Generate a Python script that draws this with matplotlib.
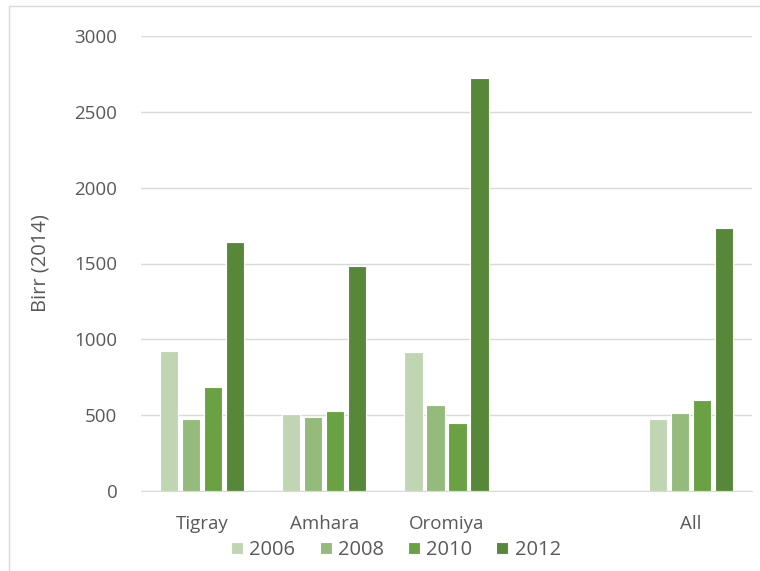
import matplotlib
matplotlib.use("Agg")
import matplotlib.pyplot as plt
from matplotlib.patches import Rectangle
import numpy as np

regions = ["Tigray", "Amhara", "Oromiya", "", "All"]
years = ["2006", "2008", "2010", "2012"]
v2006 = [925, 505, 914, None, 474]
v2008 = [472, 491, 564, None, 515]
v2010 = [683, 526, 449, None, 597]
v2012 = [1641, 1484, 2721, None, 1733]
colors = ["#C0D6B2", "#94BB7B", "#6AA243", "#578839"]

plt.rcParams['font.family'] = ['Open Sans', 'DejaVu Sans']

fig = plt.figure(figsize=(7.6, 5.71), dpi=100)
ax = fig.add_axes([141 / 760, 1 - 491 / 571, 611 / 760, 455 / 571])

x = np.arange(len(regions))
pitch = 0.18
width = 0.15
for i, (vals, col, yr) in enumerate(zip([v2006, v2008, v2010, v2012], colors, years)):
    xs = [xx + (i - 1.5) * pitch for xx, v in zip(x, vals) if v is not None]
    ys = [v for v in vals if v is not None]
    ax.bar(xs, ys, width=width, color=col, edgecolor="white", linewidth=0.8,
           label=yr, zorder=3)

ax.set_xlim(-0.5, len(regions) - 0.5)
ax.set_ylim(0, 3000)
ax.set_yticks(range(0, 3001, 500))
ax.set_xticks(x)
ax.set_xticklabels(regions)
ax.grid(axis="y", color="#D9D9D9", linewidth=1, zorder=0)
for s in ["top", "right", "left"]:
    ax.spines[s].set_visible(False)
ax.spines["bottom"].set_color("#D9D9D9")
ax.spines["bottom"].set_zorder(4)
ax.tick_params(axis="both", length=0, colors="#595959", labelsize=13.5)
ax.tick_params(axis="y", pad=17)
ax.tick_params(axis="x", pad=17)
ax.set_ylabel("Birr (2014)", color="#595959", fontsize=14.5, labelpad=17)

fig.legend(loc="center", bbox_to_anchor=(396 / 760, 1 - 550 / 571), ncol=4,
           frameon=False, fontsize=14.5, handlelength=0.6, handleheight=0.6,
           handletextpad=0.3, columnspacing=1.2, labelcolor="#595959")

fig.patches.append(Rectangle((9 / 760, -0.05), 1.0, 1 - 6 / 571 + 0.05,
                             transform=fig.transFigure, fill=False,
                             edgecolor="#D9D9D9", linewidth=1))

fig.savefig("out.png", dpi=100)
